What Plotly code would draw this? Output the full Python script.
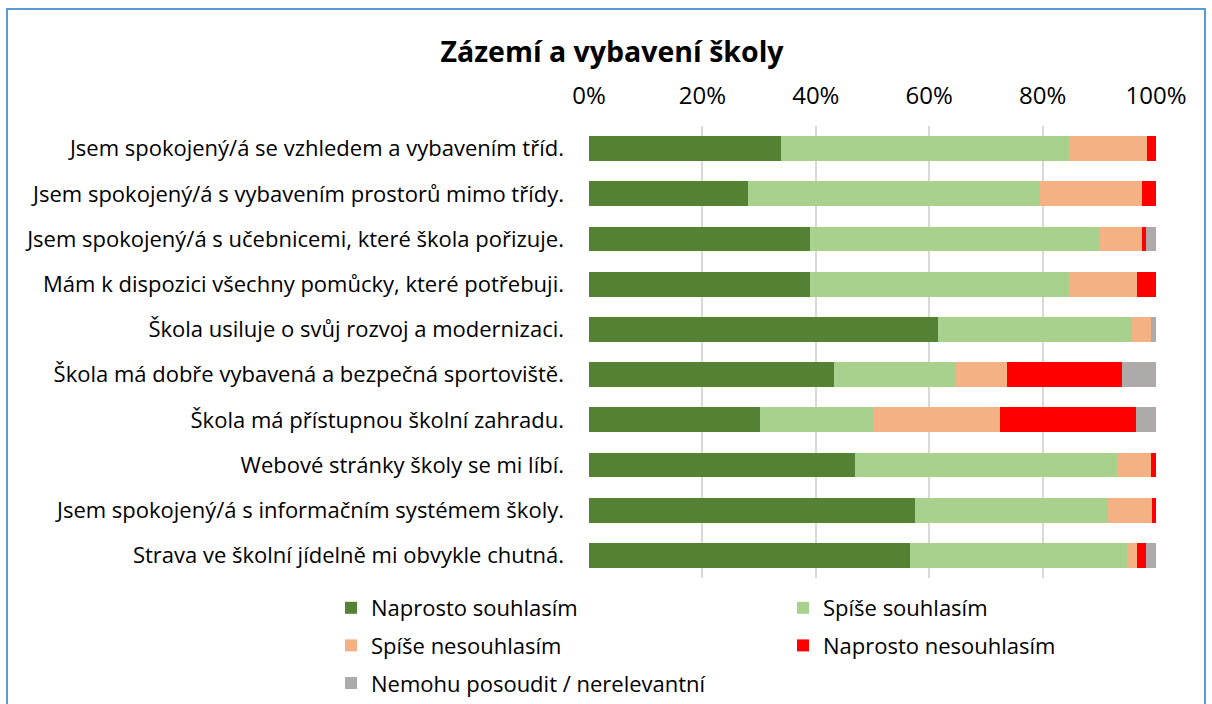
import plotly.graph_objects as go

title_text = "Zázemí a vybavení školy"
categories = [
    "Jsem spokojený/á se vzhledem a vybavením tříd.",
    "Jsem spokojený/á s vybavením prostorů mimo třídy.",
    "Jsem spokojený/á s učebnicemi, které škola pořizuje.",
    "Mám k dispozici všechny pomůcky, které potřebuji.",
    "Škola usiluje o svůj rozvoj a modernizaci.",
    "Škola má dobře vybavená a bezpečná sportoviště.",
    "Škola má přístupnou školní zahradu.",
    "Webové stránky školy se mi líbí.",
    "Jsem spokojený/á s informačním systémem školy.",
    "Strava ve školní jídelně mi obvykle chutná.",
]
series_names = [
    "Naprosto souhlasím",
    "Spíše souhlasím",
    "Spíše nesouhlasím",
    "Naprosto nesouhlasím",
    "Nemohu posoudit / nerelevantní",
]
naprosto_souhlasim = [33.8, 28.0, 38.9, 38.9, 61.5, 43.2, 30.1, 46.9, 57.5, 56.7]
spise_souhlasim = [50.9, 51.5, 51.0, 45.8, 34.3, 21.3, 19.9, 46.3, 34.1, 38.2]
spise_nesouhlasim = [13.7, 18.0, 7.6, 12.0, 3.4, 9.3, 22.4, 6.0, 7.7, 1.8]
naprosto_nesouhlasim = [1.6, 2.5, 0.8, 3.3, 0.0, 20.2, 24.1, 0.8, 0.7, 1.6]
nemohu_posoudit = [0.0, 0.0, 1.7, 0.0, 0.8, 6.0, 3.5, 0.0, 0.0, 1.7]
tick_values = [0, 20, 40, 60, 80, 100]
tick_labels = ["0%", "20%", "40%", "60%", "80%", "100%"]

series_values = [naprosto_souhlasim, spise_souhlasim, spise_nesouhlasim,
                 naprosto_nesouhlasim, nemohu_posoudit]
colors = ["#548235", "#A9D18E", "#F4B183", "#FF0000", "#AEAAAA"]
legend_ids = ["legend", "legend2", "legend", "legend2", "legend"]

FONT = "'Open Sans', Lato, sans-serif"
W, H = 1212, 704
L, R, T, B = 589, 56, 126, 126
pw, ph = W - L - R, H - T - B

def px_x(px):
    return (px - L) / pw

def px_y(py):
    return (H - B - py) / ph

fig = go.Figure()
for name, vals, col, lg in zip(series_names, series_values, colors, legend_ids):
    fig.add_trace(go.Bar(
        y=categories, x=vals, name=name, orientation="h",
        marker=dict(color=col, line=dict(width=0)),
        legend=lg, legendgroup=name,
    ))

legend_common = dict(
    orientation="v", xanchor="left", yanchor="top",
    font=dict(family=FONT, size=22, color="#000000"),
    bgcolor="rgba(0,0,0,0)", tracegroupgap=6, itemwidth=30,
)

fig.update_layout(
    width=W, height=H,
    margin=dict(l=L, r=R, t=T, b=B, autoexpand=False),
    paper_bgcolor="white", plot_bgcolor="white",
    barmode="stack", bargap=0.45,
    title=dict(text="<b>" + title_text + "</b>", x=612 / W, xanchor="center",
               y=1 - 52 / H, yanchor="middle",
               font=dict(family=FONT, size=28.5, color="#000000")),
    xaxis=dict(side="top", range=[0, 100], tickvals=tick_values, ticktext=tick_labels,
               showgrid=True, gridcolor="#D9D9D9", gridwidth=1.5,
               zeroline=False, showline=False, ticks="",
               ticklabelstandoff=16,
               tickfont=dict(family=FONT, size=24, color="#000000")),
    yaxis=dict(autorange="reversed", showgrid=False, zeroline=False, showline=False,
               ticks="", ticklabelstandoff=24,
               tickfont=dict(family=FONT, size=22, color="#000000")),
    legend=dict(x=px_x(331), y=px_y(587), **legend_common),
    legend2=dict(x=px_x(783), y=px_y(587), **legend_common),
    shapes=[dict(type="rect", xref="paper", yref="paper",
                 x0=px_x(7), x1=px_x(1205), y0=px_y(712), y1=px_y(9),
                 line=dict(color="#5B9BD5", width=2), fillcolor="rgba(0,0,0,0)",
                 layer="below")],
    showlegend=True,
)

fig.write_html("out.html", config={"displayModeBar": False},
               post_script="document.body.style.margin='0';document.body.style.overflow='hidden';")
